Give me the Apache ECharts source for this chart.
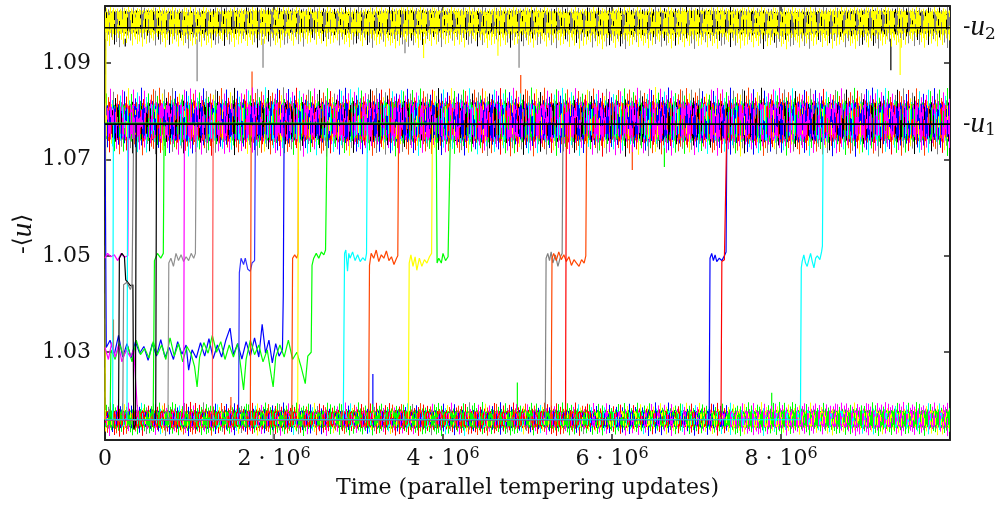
<!DOCTYPE html>
<html><head><meta charset="utf-8">
<script src="https://cdn.jsdelivr.net/npm/echarts@6/dist/echarts.min.js"></script>
<style>html,body{margin:0;padding:0;background:#fff}#c{width:1006px;height:505px}</style>
</head><body><div id="c"></div>
<script>
// ---------------- DATA ----------------
const xTicks = [0, 2e6, 4e6, 6e6, 8e6];
const yTicks = [1.03, 1.05, 1.07, 1.09];
const xRange = [0, 1e7];
const yRange = [1.0118, 1.1018];
const u1 = 1.0773, u2 = 1.0973;

// envelopes of the three crowded noise bands (outer fringe and dense core)
const bandT = [0,0.5e6,1e6,1.5e6,2e6,2.5e6,3e6,3.5e6,4e6,4.5e6,5e6,5.5e6,6e6,6.5e6,7e6,7.5e6,8e6,8.5e6,9e6,9.5e6,1e7];
const topFringeHi = [1.1016,1.1016,1.1016,1.1016,1.1016,1.1016,1.1016,1.1016,1.1016,1.1016,1.1016,1.1016,1.1016,1.1016,1.1016,1.1016,1.1016,1.1016,1.1016,1.1016,1.1016];
const topCoreHi = [1.1006,1.1008,1.1005,1.1007,1.1008,1.1006,1.1005,1.1008,1.1007,1.1006,1.1008,1.1005,1.1007,1.1006,1.1008,1.1007,1.1005,1.1006,1.1008,1.1007,1.1006];
const topCoreLo = [1.0962,1.0964,1.0960,1.0963,1.0961,1.0965,1.0962,1.0960,1.0964,1.0962,1.0961,1.0963,1.0959,1.0961,1.0960,1.0962,1.0959,1.0961,1.0960,1.0963,1.0962];
const topFringeLo = [1.0932,1.0934,1.0930,1.0933,1.0931,1.0935,1.0932,1.0930,1.0933,1.0931,1.0932,1.0930,1.0928,1.0931,1.0929,1.0930,1.0928,1.0930,1.0929,1.0932,1.0931];
const midFringeHi = [1.0846,1.0849,1.0847,1.0848,1.0850,1.0847,1.0849,1.0846,1.0848,1.0847,1.0849,1.0848,1.0846,1.0850,1.0847,1.0849,1.0848,1.0846,1.0849,1.0847,1.0848];
const midCoreHi = [1.0812,1.0815,1.0817,1.0816,1.0818,1.0815,1.0817,1.0819,1.0816,1.0818,1.0815,1.0817,1.0816,1.0818,1.0817,1.0815,1.0818,1.0816,1.0817,1.0815,1.0816];
const midCoreLo = [1.0742,1.0740,1.0738,1.0740,1.0739,1.0741,1.0738,1.0740,1.0739,1.0738,1.0740,1.0739,1.0741,1.0738,1.0740,1.0739,1.0738,1.0740,1.0739,1.0741,1.0740];
const midFringeLo = [1.0712,1.0708,1.0706,1.0709,1.0707,1.0705,1.0708,1.0706,1.0709,1.0707,1.0706,1.0708,1.0705,1.0707,1.0709,1.0706,1.0708,1.0707,1.0705,1.0708,1.0707];
const botT = [0,0.5e6,1e6,1.5e6,2e6,2.5e6,3e6,3.5e6,4e6,4.5e6,5e6,5.5e6,5.7e6,6e6,6.5e6,7e6,7.36e6,7.5e6,8e6,8.5e6,9e6,9.5e6,1e7];
const botFringeHi = [1.0196,1.0195,1.0197,1.0194,1.0196,1.0195,1.0196,1.0194,1.0195,1.0197,1.0195,1.0196,1.0195,1.0194,1.0196,1.0195,1.0195,1.0196,1.0197,1.0195,1.0196,1.0197,1.0195];
const botCoreHi = [1.0178,1.0179,1.0177,1.0178,1.0179,1.0177,1.0178,1.0179,1.0178,1.0177,1.0179,1.0178,1.0178,1.0177,1.0179,1.0178,1.0178,1.0177,1.0179,1.0178,1.0179,1.0178,1.0179];
const botCoreLo = [1.0144,1.0145,1.0143,1.0145,1.0144,1.0146,1.0145,1.0144,1.0145,1.0143,1.0145,1.0144,1.0145,1.0144,1.0146,1.0145,1.0145,1.0144,1.0145,1.0146,1.0144,1.0145,1.0144];
const botFringeLo = [1.0124,1.0127,1.0126,1.0128,1.0127,1.0126,1.0128,1.0127,1.0126,1.0127,1.0128,1.0126,1.0127,1.0128,1.0126,1.0127,1.0127,1.0126,1.0127,1.0128,1.0126,1.0127,1.0126];
// which replicas still populate the lowest band
const botSegments = [[0, 5.7e6], [5.7e6, 7.36e6], [7.36e6, 1e7]];

// individual replica trajectories [time, -<u>]
const yellowStart = [[0,1.016],[0.012e6,1.098]];
const blueLow = [[0,1.0775],[0.015e6,1.031],[0.06e6,1.0325],[0.11e6,1.0295],[0.16e6,1.0335],[0.21e6,1.0290],[0.26e6,1.0318],[0.31e6,1.0288],[0.36e6,1.0322],[0.41e6,1.0298],[0.46e6,1.0312],[0.51e6,1.0283],[0.56e6,1.0318],[0.61e6,1.0292],[0.66e6,1.0326],[0.71e6,1.0290],[0.76e6,1.0310],[0.81e6,1.0285],[0.86e6,1.0322],[0.91e6,1.0296],[0.96e6,1.0315],[0.99e6,1.0263],[1.03e6,1.0305],[1.08e6,1.0288],[1.13e6,1.0320],[1.18e6,1.0292],[1.23e6,1.0328],[1.28e6,1.0287],[1.33e6,1.0315],[1.38e6,1.0290],[1.43e6,1.0325],[1.48e6,1.0350],[1.52e6,1.0295],[1.57e6,1.0318],[1.62e6,1.0286],[1.67e6,1.0322],[1.72e6,1.0292],[1.77e6,1.0330],[1.82e6,1.0290],[1.86e6,1.0358],[1.90e6,1.0298],[1.94e6,1.0325],[1.98e6,1.0278],[2.02e6,1.0318],[2.06e6,1.0292],[2.10e6,1.0305],[2.11e6,1.042],[2.12e6,1.0775]];
const greenLow = [[0,1.016],[0.06e6,1.016],[0.07e6,1.0305],[0.12e6,1.0285],[0.17e6,1.0318],[0.22e6,1.0292],[0.27e6,1.0312],[0.32e6,1.0280],[0.37e6,1.0325],[0.42e6,1.0295],[0.47e6,1.0308],[0.52e6,1.0288],[0.57e6,1.0322],[0.62e6,1.0295],[0.67e6,1.0315],[0.72e6,1.0285],[0.77e6,1.0330],[0.82e6,1.0292],[0.87e6,1.0318],[0.92e6,1.0280],[0.97e6,1.0312],[1.02e6,1.0296],[1.06e6,1.0270],[1.09e6,1.0228],[1.12e6,1.0290],[1.17e6,1.0320],[1.22e6,1.0298],[1.27e6,1.0335],[1.32e6,1.0300],[1.37e6,1.0322],[1.42e6,1.0285],[1.47e6,1.0315],[1.52e6,1.0290],[1.57e6,1.0318],[1.61e6,1.0265],[1.64e6,1.0222],[1.67e6,1.0285],[1.72e6,1.0325],[1.77e6,1.0295],[1.82e6,1.0315],[1.87e6,1.0280],[1.92e6,1.0305],[1.96e6,1.0260],[1.99e6,1.0228],[2.02e6,1.0290],[2.07e6,1.0315],[2.12e6,1.0290],[2.17e6,1.0325],[2.22e6,1.0285],[2.27e6,1.0300],[2.32e6,1.0270],[2.37e6,1.0235],[2.40e6,1.0292],[2.44e6,1.0300],[2.45e6,1.048],[2.47e6,1.0495],[2.50e6,1.0505],[2.53e6,1.0495],[2.56e6,1.0508],[2.59e6,1.0502],[2.61e6,1.0512],[2.63e6,1.0775]];
const magentaLow = [[0,1.031],[0.04e6,1.0285],[0.08e6,1.032],[0.12e6,1.029],[0.16e6,1.0315],[0.20e6,1.028],[0.25e6,1.0305],[0.30e6,1.029],[0.34e6,1.0305],[0.38e6,1.019],[0.40e6,1.016]];
const magentaMid = [[0,1.0495],[0.03e6,1.0505],[0.07e6,1.0498],[0.11e6,1.0502],[0.15e6,1.049],[0.19e6,1.0505],[0.23e6,1.0497],[0.27e6,1.05],[0.28e6,1.0775]];
const cyanJump1 = [[0,1.016],[0.09e6,1.016],[0.10e6,1.0775]];
const cyanJump2 = [[0,1.016],[0.26e6,1.016],[0.27e6,1.0775]];
const blackEarly = [[0,1.016],[0.16e6,1.016],[0.17e6,1.0495],[0.20e6,1.0505],[0.23e6,1.0498],[0.245e6,1.045],[0.27e6,1.0445],[0.30e6,1.0438],[0.33e6,1.044],[0.34e6,1.014],[0.36e6,1.015],[0.37e6,1.0775]];
const grayEarly = [[0,1.016],[0.21e6,1.016],[0.22e6,1.044],[0.26e6,1.0445],[0.30e6,1.043],[0.32e6,1.044],[0.34e6,1.0775]];
const greenMid1 = [[0,1.016],[0.57e6,1.016],[0.585e6,1.049],[0.62e6,1.0505],[0.66e6,1.0495],[0.69e6,1.0505],[0.70e6,1.0775]];
const blackJump = [[0,1.016],[0.60e6,1.016],[0.61e6,1.0775]];
const grayMid1 = [[0,1.016],[0.745e6,1.016],[0.755e6,1.0485],[0.78e6,1.0495],[0.81e6,1.0478],[0.84e6,1.0505],[0.87e6,1.049],[0.90e6,1.0502],[0.93e6,1.0488],[0.96e6,1.0498],[0.99e6,1.049],[1.02e6,1.0505],[1.05e6,1.0495],[1.07e6,1.0505],[1.08e6,1.0775]];
const magentaJump = [[0,1.016],[0.93e6,1.016],[0.94e6,1.0775]];
const redJump1 = [[0,1.016],[1.27e6,1.016],[1.28e6,1.0775]];
const blueMid1 = [[0,1.016],[1.58e6,1.016],[1.59e6,1.0465],[1.61e6,1.0495],[1.64e6,1.0482],[1.66e6,1.0495],[1.69e6,1.0472],[1.72e6,1.0468],[1.74e6,1.0485],[1.77e6,1.0490],[1.78e6,1.0775]];
const orangeJump1 = [[0,1.016],[1.72e6,1.016],[1.73e6,1.0775]];
const orangeMid1 = [[0,1.016],[2.21e6,1.016],[2.22e6,1.0495],[2.245e6,1.0502],[2.27e6,1.0495],[2.285e6,1.0505],[2.29e6,1.0775]];
const yellowJump = [[0,1.016],[2.28e6,1.016],[2.29e6,1.0775]];
const cyanMid1 = [[0,1.016],[2.82e6,1.016],[2.835e6,1.0505],[2.85e6,1.0512],[2.87e6,1.0468],[2.885e6,1.0505],[2.90e6,1.0495],[2.93e6,1.0508],[2.96e6,1.049],[2.99e6,1.0502],[3.02e6,1.0488],[3.05e6,1.0496],[3.08e6,1.049],[3.095e6,1.0505],[3.105e6,1.0775]];
const orangeMid2 = [[0,1.016],[3.12e6,1.016],[3.13e6,1.048],[3.15e6,1.0505],[3.18e6,1.0495],[3.21e6,1.0512],[3.24e6,1.0488],[3.27e6,1.0502],[3.30e6,1.0495],[3.33e6,1.051],[3.36e6,1.049],[3.39e6,1.0498],[3.42e6,1.0482],[3.45e6,1.0495],[3.465e6,1.050],[3.475e6,1.0775]];
const yellowMid = [[0,1.016],[3.59e6,1.016],[3.60e6,1.0485],[3.62e6,1.0502],[3.645e6,1.0478],[3.67e6,1.0498],[3.69e6,1.047],[3.72e6,1.0495],[3.75e6,1.0478],[3.78e6,1.0492],[3.81e6,1.0485],[3.84e6,1.0498],[3.865e6,1.0505],[3.875e6,1.0775]];
const greenDip = [[0,1.0775],[3.92e6,1.0775],[3.93e6,1.0485],[3.95e6,1.0495],[3.98e6,1.0485],[4.00e6,1.0505],[4.03e6,1.049],[4.06e6,1.0498],[4.08e6,1.0502],[4.09e6,1.0775]];
const grayMid2 = [[0,1.016],[5.21e6,1.016],[5.22e6,1.0495],[5.24e6,1.0505],[5.26e6,1.049],[5.28e6,1.0508],[5.30e6,1.0485],[5.33e6,1.0502],[5.36e6,1.0478],[5.39e6,1.0498],[5.41e6,1.0505],[5.42e6,1.0775]];
const orangeMid3 = [[0,1.016],[5.28e6,1.016],[5.29e6,1.0495],[5.31e6,1.0505],[5.34e6,1.049],[5.37e6,1.0508],[5.40e6,1.0492],[5.43e6,1.0502],[5.46e6,1.0488],[5.49e6,1.0498],[5.52e6,1.048],[5.55e6,1.0492],[5.58e6,1.0485],[5.61e6,1.0478],[5.64e6,1.0492],[5.67e6,1.0485],[5.69e6,1.050],[5.70e6,1.0775]];
const redJump2 = [[0,1.016],[5.45e6,1.016],[5.46e6,1.0775]];
const blueMid2 = [[0,1.016],[7.15e6,1.016],[7.16e6,1.0495],[7.18e6,1.0505],[7.20e6,1.049],[7.22e6,1.0502],[7.24e6,1.0488],[7.27e6,1.0495],[7.30e6,1.049],[7.33e6,1.050],[7.35e6,1.0508],[7.36e6,1.0775]];
const redMid = [[0,1.016],[7.29e6,1.016],[7.30e6,1.0488],[7.33e6,1.0492],[7.35e6,1.0495],[7.36e6,1.0775]];
const cyanMid2 = [[0,1.016],[8.23e6,1.016],[8.24e6,1.0475],[8.25e6,1.0488],[8.27e6,1.0502],[8.29e6,1.0485],[8.31e6,1.0478],[8.33e6,1.0492],[8.35e6,1.0505],[8.37e6,1.0488],[8.39e6,1.0475],[8.41e6,1.0495],[8.43e6,1.050],[8.46e6,1.0492],[8.48e6,1.0508],[8.49e6,1.052],[8.50e6,1.0775]];

// single excursions sticking out of the bands [time, from, to]
const spikesGray = [[1.09e6,1.095,1.0862],[1.87e6,1.095,1.0890],[3.55e6,1.095,1.0920],[4.90e6,1.095,1.0890],[1.99e6,1.014,1.0118]];
const spikesBlack = [[0.24e6,1.095,1.0934],[9.30e6,1.095,1.0885]];
const spikesYellow = [[3.77e6,1.095,1.0910],[4.65e6,1.095,1.0915],[9.41e6,1.095,1.0875]];
const spikesOrange = [[1.74e6,1.082,1.0882],[4.92e6,1.082,1.0875],[6.24e6,1.073,1.0678],[1.49e6,1.018,1.0207],[0.10e6,1.030,1.0368]];
const spikesGreen = [[6.62e6,1.073,1.0684],[7.89e6,1.018,1.0216],[4.88e6,1.018,1.0237]];
const spikesBlue = [[3.17e6,1.018,1.0255]];

// ---------------- STYLE ----------------
const FONT = 'DejaVu Serif';
const IFONT = 'Liberation Serif';
const C = {M:'#ff00ff',B:'#0000ff',K:'#000000',Cy:'#00ffff',G:'#00ff00',O:'#ff4500',R:'#ff0000',Y:'#ffff00',A:'#808080'};
// hatch texture (stroke-length fractions) used to shade the noise bands
const TEX_A = [0.9,0.3,0.7,0.1,1.0,0.5,0.2,0.8,0.4,0.95,0.15,0.6,0.35,0.85,0.05,0.7,0.45,1.0,0.25,0.55,0.9,0.1,0.65,0.3,0.8,0.2,0.5,0.75,0.4,0.95,0.15];
const TEX_B = [0.4,0.8,0.2,0.6,1.0,0.3,0.7,0.1,0.9,0.5,0.25,0.85,0.45,0.65,0.05,0.75,0.35,0.95,0.15,0.55,0.7,0.3,0.9];
const TEX_C = [0.6,0.2,0.9,0.4,0.75,0.1,0.5,1.0,0.3,0.8,0.15,0.65,0.45,0.95,0.25,0.7,0.35,0.85,0.05];
// palette lengths are prime so the hatch colours do not lock into a pattern
const palMidCore = ['M','B','M','K','Cy','M','B','O','M','G','B','M','A','M','R','B','M','K','Cy','M','B','M','O','B','G','M','B','M','Y'];
const palMidFringe = ['O','Cy','A','M','G','B','O','R','M','Y','Cy','A','G','K','M','O','B'];
const palTopCore = ['Y','Y','A','Y','K','Y','Y','A','Y','Y','A','Y','Y'];
const palTopFringe = ['Y','A','Y','Y','K','Y','A','Y','Y','A','Y'];
const palBot = [
  ['R','G','O','M','G','R','B','G','Cy','R','Y','G','O','A','M','R','G','B','G'],
  ['G','M','R','Y','G','B','Cy','G','M','R','Y','B','G'],
  ['G','M','Y','G','Cy','M','G','Y','M','G','M']
];
const replicaStyle = [
  [yellowStart,'#ffff00'],[blueLow,'#0000ff'],[greenLow,'#00ff00'],[magentaLow,'#ff00ff'],[magentaMid,'#ff00ff'],
  [cyanJump1,'#00ffff'],[cyanJump2,'#00ffff'],[blackEarly,'#000000'],[grayEarly,'#808080'],[greenMid1,'#00ff00'],
  [blackJump,'#000000'],[grayMid1,'#909090'],[magentaJump,'#ff00ff'],[redJump1,'#ff5050'],[blueMid1,'#3030ff'],
  [orangeJump1,'#ff4500'],[orangeMid1,'#ff4500'],[yellowJump,'#ffff00'],[cyanMid1,'#00ffff'],[orangeMid2,'#ff4500'],
  [yellowMid,'#ffff00'],[greenDip,'#00ff00'],[grayMid2,'#808080'],[orangeMid3,'#ff4500'],[redJump2,'#ff0000'],
  [blueMid2,'#0000ff'],[redMid,'#ff0000'],[cyanMid2,'#00ffff']
];
const spikeStyle = [[spikesGray,'#808080'],[spikesBlack,'#000000'],[spikesYellow,'#ffff00'],[spikesOrange,'#ff4500'],[spikesGreen,'#00ff00'],[spikesBlue,'#0000ff']];

// ---------------- CHART ----------------
const chart = echarts.init(document.getElementById('c'), null, {renderer:'canvas'});
const series = [];
replicaStyle.forEach(([d,col])=>{
  series.push({type:'line', data:d, showSymbol:false, symbol:'none', silent:true, animation:false,
    lineStyle:{color:col, width:1.2}});
});
spikeStyle.forEach(([d,col])=>{
  series.push({type:'custom', data:d, silent:true, animation:false, encode:{x:0,y:[1,2]},
    renderItem:(p,api)=>{
      const a = api.coord([api.value(0), api.value(1)]), b = api.coord([api.value(0), api.value(2)]);
      return {type:'line', shape:{x1:a[0],y1:a[1],x2:b[0],y2:b[1]}, style:{stroke:col, lineWidth:1.2}};
    }});
});

// noise band: envelope from the data arrays, shaded with a 1px hatch texture
function noiseBand(T, fLo, cLo, cHi, fHi, coreP, fringeP, t0, t1){
  const idx = T.map((t,i)=>i).filter(i=>T[i]>=t0 && T[i]<=t1);
  const data = idx.map(i=>[T[i], fLo[i], fHi[i]]);
  return {type:'custom', data, silent:true, animation:false, encode:{x:0,y:[1,2]},
    renderItem:(p,api)=>{
      if(p.dataIndex!==0) return null;
      const P = idx.map(i=>({x:api.coord([T[i],fHi[i]])[0], fh:api.coord([T[i],fHi[i]])[1],
        ch:api.coord([T[i],cHi[i]])[1], cl:api.coord([T[i],cLo[i]])[1], fl:api.coord([T[i],fLo[i]])[1]}));
      const x0 = Math.round(P[0].x), x1 = Math.round(P[P.length-1].x);
      const yTop = Math.floor(Math.min(...P.map(q=>q.fh))) - 1;
      const yBot = Math.ceil(Math.max(...P.map(q=>q.fl))) + 1;
      const W = Math.max(1, x1-x0), H = yBot-yTop;
      const cv = document.createElement('canvas'); cv.width = W; cv.height = H;
      const ctx = cv.getContext('2d');
      let k = 0;
      for(let c=0;c<W;c++){
        const px = x0+c+0.5, g = x0+c;
        while(k < P.length-2 && px > P[k+1].x) k++;
        const f = Math.min(1, Math.max(0, (px-P[k].x)/(P[k+1].x-P[k].x)));
        const L = (a)=>P[k][a]+(P[k+1][a]-P[k][a])*f;
        const fh=L('fh')-yTop, ch=L('ch')-yTop, cl=L('cl')-yTop, fl=L('fl')-yTop;
        const mid=(ch+cl)/2, half=(cl-ch)/2;
        const a = TEX_A[g%TEX_A.length], b = TEX_B[g%TEX_B.length], cc = TEX_C[g%TEX_C.length];
        // outer strokes reaching into the fringe
        let top = ch - (ch-fh)*a*a, bot = cl + (fl-cl)*b*b;
        ctx.fillStyle = C[fringeP[g%fringeP.length]]; ctx.fillRect(c, top, 1, bot-top);
        // core strokes
        top = ch + half*0.35*cc; bot = cl - half*0.35*TEX_A[(g+13)%TEX_A.length];
        ctx.fillStyle = C[coreP[(g*3)%coreP.length]]; ctx.fillRect(c, top, 1, bot-top);
        top = mid - half*TEX_B[(g+3)%TEX_B.length]; bot = top + half*(0.3+0.7*TEX_C[(g+5)%TEX_C.length]);
        ctx.fillStyle = C[coreP[(g*5+7)%coreP.length]]; ctx.fillRect(c, top, 1, bot-top);
      }
      return {type:'image', style:{image:cv, x:x0, y:yTop, width:W, height:H}};
    }};
}
series.push(noiseBand(bandT, topFringeLo, topCoreLo, topCoreHi, topFringeHi, palTopCore, palTopFringe, 0, 1e7));
series.push(noiseBand(bandT, midFringeLo, midCoreLo, midCoreHi, midFringeHi, palMidCore, palMidFringe, 0, 1e7));
botSegments.forEach(([t0,t1],k)=>{
  series.push(noiseBand(botT, botFringeLo, botCoreLo, botCoreHi, botFringeHi, palBot[k], palBot[k], t0, t1));
});

const uRich = {
  m:{fontFamily:FONT, fontSize:22, color:'#111', lineHeight:30, verticalAlign:'middle'},
  u:{fontFamily:IFONT, fontSize:29, fontStyle:'italic', color:'#111', lineHeight:30, verticalAlign:'middle'},
  s:{fontFamily:FONT, fontSize:17, color:'#111', lineHeight:14, verticalAlign:'bottom'}
};
[[u2,'2'],[u1,'1']].forEach(([v,k])=>{
  series.push({type:'line', data:[[xRange[0],v],[xRange[1],v]], showSymbol:false, symbol:'none', silent:true, animation:false,
    lineStyle:{color:'#000', width:1.6},
    endLabel:{show:true, distance:13, formatter:'{m|-}{u|u}{s|'+k+'}', rich:uRich}});
});

const axisLine = {show:true, onZero:false, lineStyle:{color:'#222', width:2}};
const tick = (vals)=>({show:true, inside:true, length:6, customValues:vals, lineStyle:{color:'#222', width:1.5}});
const labelFont = {fontFamily:FONT, fontSize:22, color:'#111'};
chart.setOption({
  animation:false,
  backgroundColor:'#fff',
  grid:{left:105, right:56, top:6, bottom:65, containLabel:false},
  xAxis:[
    {type:'value', min:xRange[0], max:xRange[1], position:'bottom', axisLine, axisTick:tick(xTicks),
     axisLabel:{show:true, customValues:xTicks, margin:6, ...labelFont, lineHeight:26,
       formatter:v=> v===0 ? '0' : (v/1e6)+' · 10{sup|6}',
       rich:{sup:{fontFamily:FONT, fontSize:16, color:'#111', verticalAlign:'top', lineHeight:14}}},
     splitLine:{show:false},
     name:'Time (parallel tempering updates)', nameLocation:'middle', nameGap:37,
     nameTextStyle:{fontFamily:FONT, fontSize:22, color:'#111'}},
    {type:'value', min:xRange[0], max:xRange[1], position:'top', axisLine, axisTick:tick(xTicks),
     axisLabel:{show:false}, splitLine:{show:false}}
  ],
  yAxis:[
    {type:'value', min:yRange[0], max:yRange[1], position:'left', axisLine, axisTick:tick(yTicks),
     axisLabel:{show:true, customValues:yTicks, margin:14, ...labelFont, formatter:v=>v.toFixed(2)},
     splitLine:{show:false}},
    {type:'value', min:yRange[0], max:yRange[1], position:'right', axisLine, axisTick:tick(yTicks),
     axisLabel:{show:false}, splitLine:{show:false}}
  ],
  graphic:[{type:'text', x:23, y:234, rotation:Math.PI/2, silent:true,
    style:{text:'-⟨{u|u}⟩', fontFamily:FONT, fontSize:23, fill:'#111', align:'center', verticalAlign:'middle',
      rich:{u:{fontFamily:IFONT, fontSize:29, fontStyle:'italic', fill:'#111'}}}}],
  series
});
</script></body></html>
